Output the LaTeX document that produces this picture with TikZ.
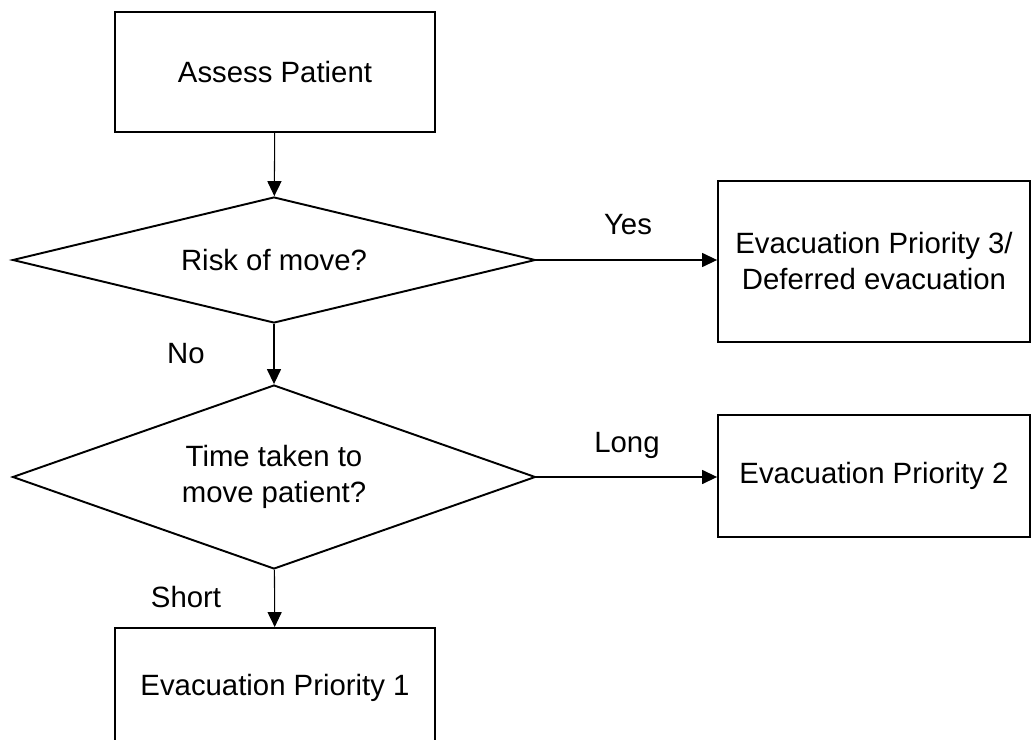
\documentclass[tikz,border=0pt]{standalone}
\usepackage{fontspec}
\setmainfont{Liberation Sans}
\usetikzlibrary{arrows.meta,shapes.geometric,positioning}

\begin{document}
\begin{tikzpicture}[x = 0.02cm, y = -0.02cm,
  font=\fontsize{16.7}{20.5}\selectfont,
  stepbox/.style={draw, line width=1.1pt, align=center, inner sep=0pt},
  decision/.style={draw, diamond, line width=1.1pt, align=center, inner sep=0pt, minimum width=10.46cm},
  flow/.style={-{Triangle[length=8.5pt,width=8pt]}, line width=0.6pt}]
\useasboundingbox (0,0) rectangle (1032,740);
\node[stepbox, minimum width=6.4cm, minimum height=2.4cm] (assess) at (275,72) {Assess Patient};
\node[decision, aspect=4.15, minimum height=2.52cm] (risk) at (274,260) {Risk of move?};
\node[decision, aspect=2.84, minimum height=3.68cm] (time) at (274,477) {Time taken to\\move patient?};
\node[stepbox, minimum width=6.24cm, minimum height=3.22cm] (deferred) at (874,261.5) {Evacuation Priority 3/\\Deferred evacuation};
\node[stepbox, minimum width=6.24cm, minimum height=2.44cm] (prioTwo) at (874,476) {Evacuation Priority 2};
\node[stepbox, minimum width=6.4cm, minimum height=2.4cm] (prioOne) at (275,688) {Evacuation Priority 1};
% Branch labels
\node (yes) at (628,225) {Yes};
\node (no) at (186,354) {No};
\node (long) at (627,445) {Long};
\node (short) at (186,597) {Short};
% Connectors
\draw[flow] (assess) -- (risk);
\draw[flow] (risk.east) -- (risk.east -| deferred.west);
\draw[flow] (risk) -- (time);
\draw[flow] (time.east) -- (time.east -| prioTwo.west);
\draw[flow] (time) -- (prioOne);
\end{tikzpicture}
\end{document}
